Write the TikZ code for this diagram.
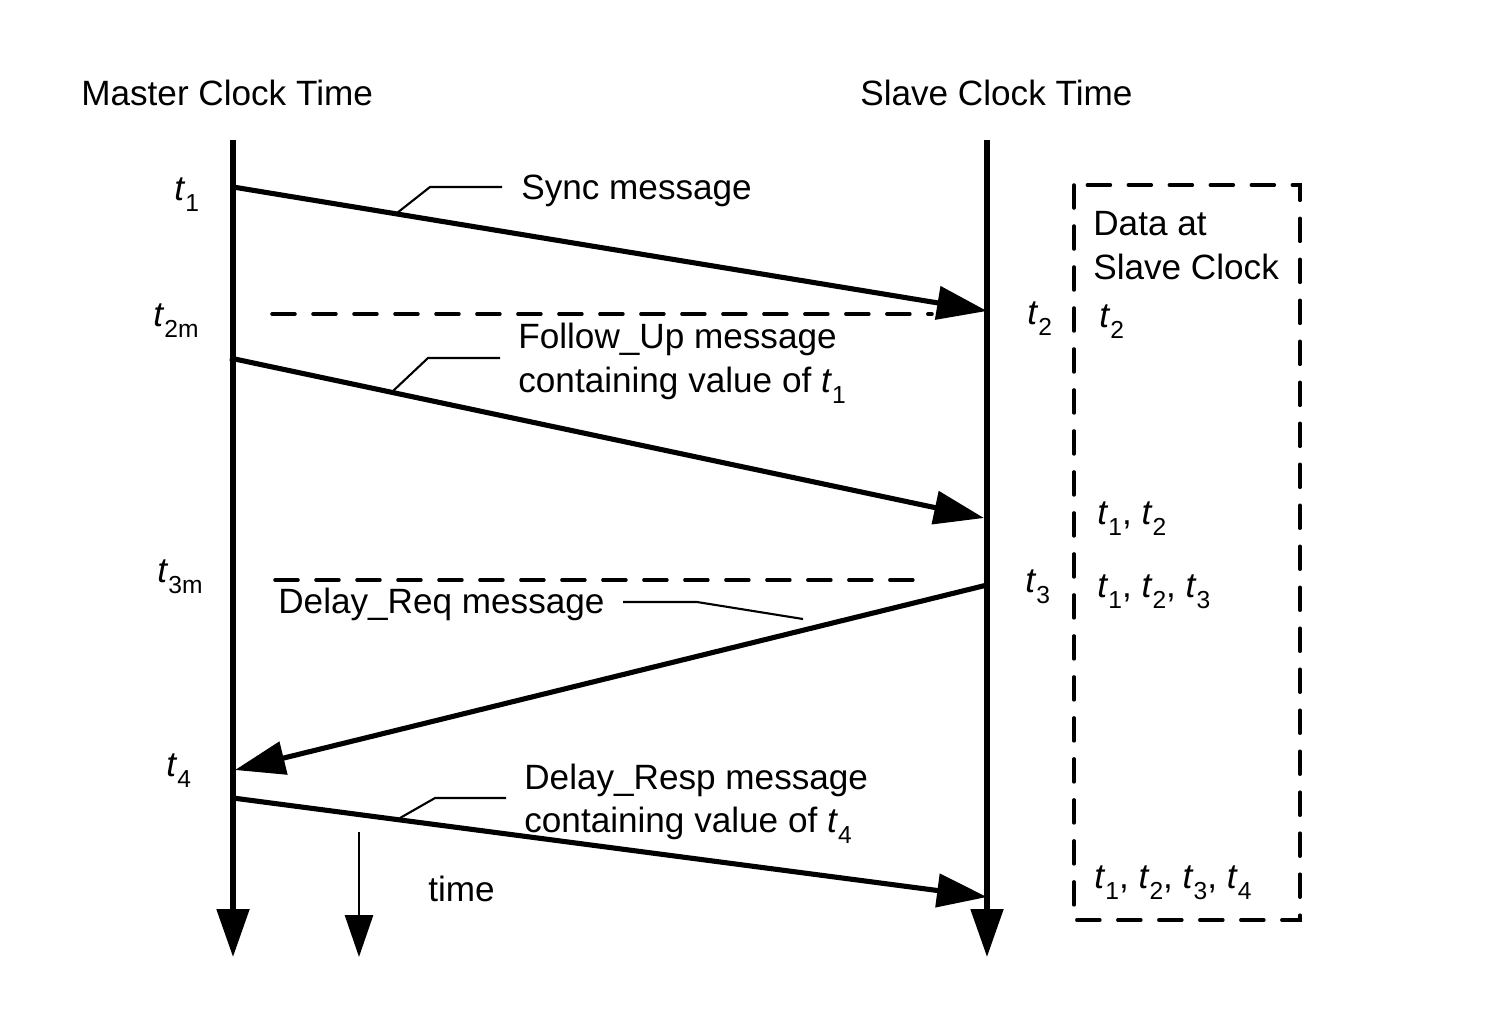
\documentclass[tikz,border=0pt]{standalone}
\usepackage{fontspec}
\setmainfont{Liberation Sans}
\usetikzlibrary{arrows.meta}
\newcommand{\tm}[1]{\textit{t}\raisebox{-0.6ex}{\fontsize{14}{14}\selectfont #1}}

\tikzset{
  axisline/.style={line width=3pt, -{Triangle[length=0.96cm, width=0.64cm]}},
  msgline/.style={line width=2.9pt, -{Triangle[length=1.0cm, width=0.66cm]}},
  leader/.style={line width=1.2pt},
  markline/.style={line width=2pt, line cap=round, dash pattern=on 0.46cm off 0.36cm},
  lbl/.style={anchor=base west, inner sep=0pt, font=\fontsize{20}{24}\selectfont}
}

\begin{document}
\begin{tikzpicture}[x=0.02cm, y=-0.02cm]
    \useasboundingbox (0,0) rectangle (1497,1018);

    % clock axes
    \node[lbl] (mtitle) at (81,105) {Master Clock Time};
    \node[lbl] (stitle) at (860,105) {Slave Clock Time};
    \coordinate (mtop) at (233,140);
    \coordinate (mend) at (233,957);
    \coordinate (stop) at (987,140);
    \coordinate (send) at (987,957);
    \draw[axisline] (mtop) -- (mend);
    \draw[axisline] (stop) -- (send);

    % time arrow
    \coordinate (ttop) at (359,832);
    \coordinate (tend) at (359,957);
    \draw[line width=1.6pt, -{Triangle[length=0.84cm, width=0.56cm]}] (ttop) -- (tend);
    \node[lbl] (time) at (428,901) {time};

    % message end points
    \coordinate (sync1) at (233,187);
    \coordinate (sync2) at (987,311);
    \coordinate (fu1) at (230,358);
    \coordinate (fu2) at (984,518);
    \coordinate (dq1) at (987,585);
    \coordinate (dq2) at (235,770);
    \coordinate (dr1) at (233,798);
    \coordinate (dr2) at (987,897);
    \draw[msgline] (sync1) -- (sync2);
    \draw[msgline] (fu1) -- (fu2);
    \draw[msgline] (dq1) -- (dq2);
    \draw[msgline] (dr1) -- (dr2);

    % dashed time marks
    \coordinate (m2a) at (272,314);
    \coordinate (m2b) at (932,314);
    \coordinate (m3a) at (275,580);
    \coordinate (m3b) at (925,580);
    \draw[markline] (m2a) -- (m2b);
    \draw[markline] (m3a) -- (m3b);

    % time labels
    \node[lbl] (t1) at (174,200) {\tm{1}};
    \node[lbl] (t2m) at (153,326) {\tm{2m}};
    \node[lbl] (t3m) at (157,582) {\tm{3m}};
    \node[lbl] (t4) at (166,776) {\tm{4}};
    \node[lbl] (t2) at (1027,324) {\tm{2}};
    \node[lbl] (t3) at (1025,592) {\tm{3}};

    % message labels and leaders
    \node[lbl] (synclbl) at (521,199) {Sync message};
    \draw[leader] (397,213) -- (430,187) -- (502,187);
    \node[lbl] (fulbl) at (518,348) {Follow\_Up message};
    \node[lbl] (fulbl2) at (518,392) {containing value of \tm{1}};
    \draw[leader] (393,391) -- (428,358) -- (500,358);
    \node[lbl] (dqlbl) at (278,613) {Delay\_Req message};
    \draw[leader] (623,602) -- (697,602) -- (803,619);
    \node[lbl] (drlbl) at (524,789) {Delay\_Resp message};
    \node[lbl] (drlbl2) at (524,832) {containing value of \tm{4}};
    \draw[leader] (400,818) -- (435,798) -- (506,798);

    % data at slave clock
    \coordinate (boxa) at (1074,185);
    \coordinate (boxb) at (1300,920);
    \draw[markline] (boxa) rectangle (boxb);
    \node[lbl] (data1) at (1093,235) {Data at};
    \node[lbl] (data2) at (1093,279) {Slave Clock};
    \node[lbl] (d1) at (1099,327) {\tm{2}};
    \node[lbl] (d2) at (1097,524) {\tm{1}, \tm{2}};
    \node[lbl] (d3) at (1097,597) {\tm{1}, \tm{2}, \tm{3}};
    \node[lbl] (d4) at (1094,888) {\tm{1}, \tm{2}, \tm{3}, \tm{4}};
\end{tikzpicture}
\end{document}
